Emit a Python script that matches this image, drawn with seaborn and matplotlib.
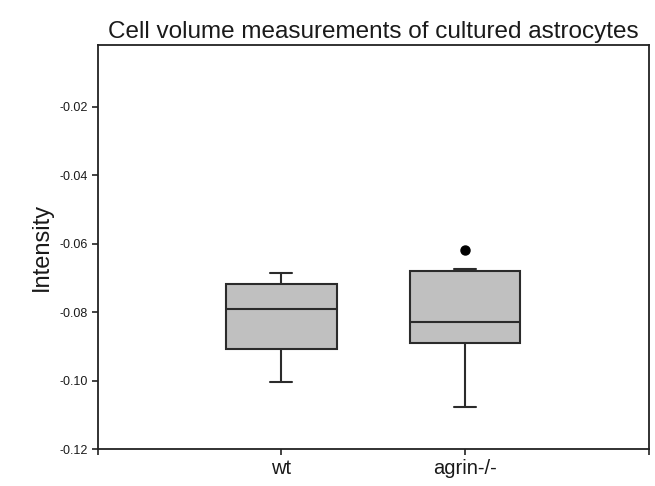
"""Box plot of cell volume measurements (wt vs agrin-/-) in astrocytes."""

import matplotlib
matplotlib.use("Agg")
import matplotlib.pyplot as plt
import numpy as np
import pandas as pd
import seaborn as sns


# Sample values (quartiles, 10th/90th percentile whiskers)
groups = ["wt", "agrin-/-"]
wt_values = [-0.1004, -0.1004, -0.0935, -0.0883, -0.0840, -0.0791,
             -0.0760, -0.0731, -0.0705, -0.0687, -0.0687]
agrin_values = [-0.1076, -0.1076, -0.0920, -0.0862, -0.0850, -0.0830,
                -0.0760, -0.0684, -0.0676, -0.0673, -0.0619]
y_ticks = [-0.12, -0.10, -0.08, -0.06, -0.04, -0.02]
y_tick_labels = ["-0.12", "-0.10", "-0.08", "-0.06", "-0.04", "-0.02"]

df = pd.DataFrame({
    "group": [groups[0]] * len(wt_values) + [groups[1]] * len(agrin_values),
    "Intensity": wt_values + agrin_values,
})

sns.set_style("ticks")
plt.rcParams["font.family"] = ["Liberation Sans", "DejaVu Sans"]

fig = plt.figure(figsize=(6.55, 4.86), dpi=100)
ax = fig.add_axes([0.149, 0.076, 0.842, 0.831])

sns.boxplot(
    data=df, x="group", y="Intensity", order=groups, ax=ax,
    color="#c0c0c0", linecolor="#2b2b2b", linewidth=1.5,
    width=0.6, whis=(10, 90), saturation=1, capwidths=0.12,
    flierprops=dict(marker="o", markersize=6.5, markerfacecolor="black",
                    markeredgecolor="black"),
)

ax.set_xlim(-1, 2)
ax.set_ylim(-0.12, -0.002)
ax.set_xticks([-1, 0, 1, 2])
ax.set_xticklabels(["", groups[0], groups[1], ""], fontsize=14.5, color="#1a1a1a")
ax.set_yticks(y_ticks)
ax.set_yticklabels(y_tick_labels, fontsize=9, color="#1a1a1a")
ax.tick_params(axis="both", direction="out", length=4, width=1.2,
               color="#222222", pad=3)
ax.set_xlabel("")
ax.set_ylabel("Intensity", fontsize=17, labelpad=5, color="#1a1a1a")
ax.set_title("Cell volume measurements of cultured astrocytes",
             fontsize=17.5, pad=5, color="#1a1a1a")

for side in ["left", "right", "top", "bottom"]:
    ax.spines[side].set_visible(True)
    ax.spines[side].set_linewidth(1.3)
    ax.spines[side].set_color("#222222")

fig.savefig("out.png", dpi=100)
